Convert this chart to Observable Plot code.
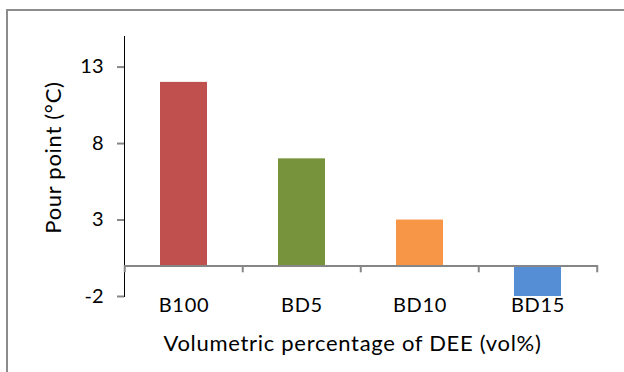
<!DOCTYPE html>
<html>
<head>
<meta charset="utf-8">
<script src="https://cdn.jsdelivr.net/npm/d3@7"></script>
<script src="https://cdn.jsdelivr.net/npm/@observablehq/plot@0.6"></script>
<style>
  html, body { margin: 0; padding: 0; background: #fff; }
  #wrap { position: relative; width: 624px; height: 372px; overflow: hidden; }
  #border { position: absolute; left: 6px; top: 9px; right: -10px; bottom: -10px;
            border-left: 2px solid #8c8c8c; border-top: 2px solid #8c8c8c; }
  #chart { position: absolute; left: 0; top: 0; }
</style>
</head>
<body>
<div id="wrap"><div id="border"></div><div id="chart"></div></div>
<script>
// Pour point of biodiesel blends with diethyl ether (DEE)
const categories = ["B100", "BD5", "BD10", "BD15"];
const pourPoint = [12, 7, 3, -2];
const colors = ["#C0504D", "#77933C", "#F79646", "#558ED5"];
const yTicks = [-2, 3, 8, 13];
const yLabel = "Pour point (°C)";
const xLabel = "Volumetric percentage of DEE (vol%)";

const data = categories.map((c, i) => ({category: c, value: pourPoint[i]}));

const width = 624, height = 372;
const marginLeft = 124, marginRight = 26, marginTop = 36, marginBottom = 76;
const step = (width - marginLeft - marginRight) / categories.length;
const axisColor = "#868686";
const font = "Lato, 'Open Sans', sans-serif";

const chart = Plot.plot({
  width, height, marginLeft, marginRight, marginTop, marginBottom,
  style: {fontFamily: font, fontSize: "20px", color: "#000", background: "transparent"},
  x: {domain: categories, paddingInner: 0.6, paddingOuter: 0.3, label: null, axis: null},
  y: {domain: [-2, 15], ticks: yTicks, tickSize: 7, tickPadding: 14, label: null,
      tickFormat: d => String(d), line: true},
  color: {domain: categories, range: colors},
  marks: [
    Plot.barY(data, {x: "category", y: "value", fill: "category"}),
    // category boundary ticks hanging below the zero line
    Plot.ruleX(categories, {x: d => d, y1: 0, y2: -0.45, dx: -step / 2, stroke: axisColor, strokeWidth: 2}),
    Plot.ruleX(categories.slice(-1), {x: d => d, y1: 0, y2: -0.45, dx: step / 2, stroke: axisColor, strokeWidth: 2}),
    Plot.ruleY([0], {stroke: axisColor, strokeWidth: 2}),
    Plot.text(categories, {x: d => d, y: -2, text: d => d, lineAnchor: "top", dy: 1,
      fontSize: 20, fill: "#000"}),
    Plot.text([yLabel], {frameAnchor: "left", text: d => d, rotate: -90, textAnchor: "middle",
      dx: -71, dy: -9, fontSize: 22, fill: "#000"}),
    Plot.text([xLabel], {frameAnchor: "bottom", text: d => d, dx: -9, dy: 54,
      fontSize: 22, fill: "#000"})
  ]
});

const svg = d3.select(chart);
// grey y axis line and ticks
svg.selectAll("[aria-label='y-axis tick'] path, [aria-label='y-axis tick'] line")
  .attr("stroke", axisColor).attr("stroke-width", 2);
svg.selectAll("[aria-label='y-axis line'] line, [aria-label='y-axis line'] path")
  .attr("stroke", axisColor).attr("stroke-width", 2);
// slightly looser letter spacing on the text marks
svg.selectAll("[aria-label='text'] text").style("letter-spacing", "0.7px");

document.getElementById("chart").appendChild(chart);
</script>
</body>
</html>
